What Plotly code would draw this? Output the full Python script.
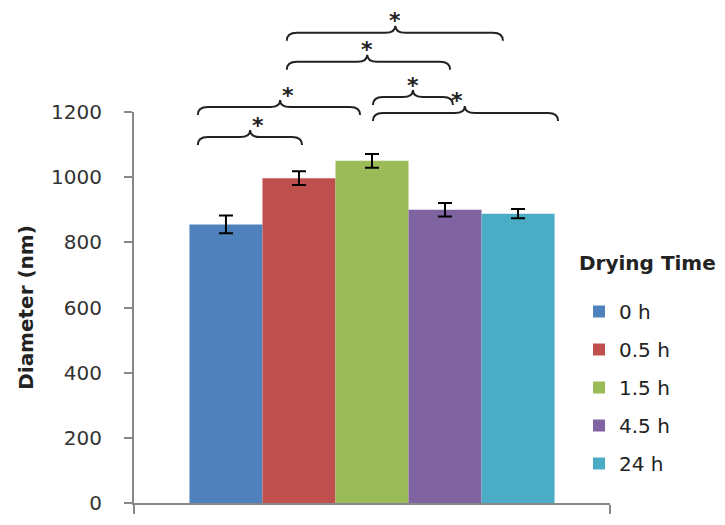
import plotly.graph_objects as go

# ---- data ----
series_names = ["0 h", "0.5 h", "1.5 h", "4.5 h", "24 h"]
diameters = [855, 997, 1050, 900, 888]
errors = [27, 21, 21, 21, 14]
colors = ["#4F81BD", "#C0504D", "#9BBB59", "#8064A2", "#4BACC6"]
y_ticks = [0, 200, 400, 600, 800, 1000, 1200]

# significance braces: (left, right, tip) in paper-x, baseline in y data units
brace_left = [0.134, 0.134, 0.321, 0.321, 0.502, 0.502]
brace_right = [0.353, 0.475, 0.775, 0.664, 0.670, 0.891]
brace_tip = [0.244, 0.307, 0.549, 0.490, 0.586, 0.695]
brace_level = [1123, 1215, 1443, 1354, 1246, 1197]

Y_MAX = 1200
OFF = 8  # default page body margin of the browser
W, H = 725 - OFF, 525 - OFF
PLOT_L, PLOT_R, PLOT_T, PLOT_B = 134 - OFF, 610 - OFF, 112 - OFF, 503 - OFF
PW, PH = PLOT_R - PLOT_L, PLOT_B - PLOT_T

fig = go.Figure()
for i, (n, v, e, c) in enumerate(zip(series_names, diameters, errors, colors)):
    fig.add_trace(go.Bar(
        x=[""], y=[v], name=n, marker=dict(color=c, line=dict(width=0)),
        legendgroup=f"g{i}",
        error_y=dict(type="data", array=[e], visible=True, color="black",
                     thickness=2, width=7),
    ))

FONT = "DejaVu Sans, Arial, sans-serif"

def brace_path(x0, x1, xm, yv):
    y = yv / Y_MAX
    r = 10 / PW
    d = 8 / PH
    h = 7 / PH
    return (f"M{x0},{y - d} Q{x0},{y} {x0 + r},{y} L{xm - r},{y} "
            f"Q{xm},{y} {xm},{y + h} Q{xm},{y} {xm + r},{y} "
            f"L{x1 - r},{y} Q{x1},{y} {x1},{y - d}")

shapes = []
annotations = []
for x0, x1, xm, yv in zip(brace_left, brace_right, brace_tip, brace_level):
    shapes.append(dict(type="path", xref="paper", yref="paper",
                       path=brace_path(x0, x1, xm, yv),
                       line=dict(color="#222222", width=2)))
    annotations.append(dict(xref="paper", yref="paper", x=xm,
                            y=yv / Y_MAX + 12 / PH, text="<b>*</b>", showarrow=False,
                            yanchor="middle",
                            font=dict(family=FONT, size=22, color="#222222")))

# legend title as separate text
annotations.append(dict(xref="paper", yref="paper", x=(577 - OFF - PLOT_L) / PW,
                        y=(PLOT_B - (263 - OFF)) / PH, xanchor="left", yanchor="middle",
                        text="<b>Drying Time</b>", showarrow=False,
                        font=dict(family=FONT, size=20, color="#222222")))

fig.update_layout(
    width=W, height=H,
    margin=dict(l=PLOT_L, r=W - PLOT_R, t=PLOT_T, b=H - PLOT_B, autoexpand=False),
    paper_bgcolor="white", plot_bgcolor="white",
    barmode="group", bargap=0.233, bargroupgap=0,
    font=dict(family=FONT, size=20, color="#333333"),
    showlegend=True,
    legend=dict(
        x=(579 - OFF - PLOT_L) / PW, xanchor="left",
        y=(PLOT_B - (292 - OFF)) / PH, yanchor="top",
        font=dict(size=20, color="#222222"),
        tracegroupgap=9, bgcolor="rgba(0,0,0,0)",
        itemwidth=30,
    ),
    xaxis=dict(showgrid=False, showline=True, linecolor="#888888", linewidth=2,
               ticks="outside", tickson="boundaries", ticklen=9,
               tickcolor="#888888", tickwidth=2, showticklabels=False,
               automargin=False),
    yaxis=dict(range=[0, Y_MAX], tickvals=y_ticks, showgrid=False,
               showline=True, linecolor="#888888", linewidth=2,
               ticks="outside", ticklen=8, tickcolor="#888888", tickwidth=2,
               ticklabelstandoff=18, zeroline=False, automargin=False,
               title=dict(text="<b>Diameter (nm)</b>", standoff=12,
                          font=dict(size=20, color="#222222"))),
    shapes=shapes, annotations=annotations,
)

fig.write_html("out.html")
